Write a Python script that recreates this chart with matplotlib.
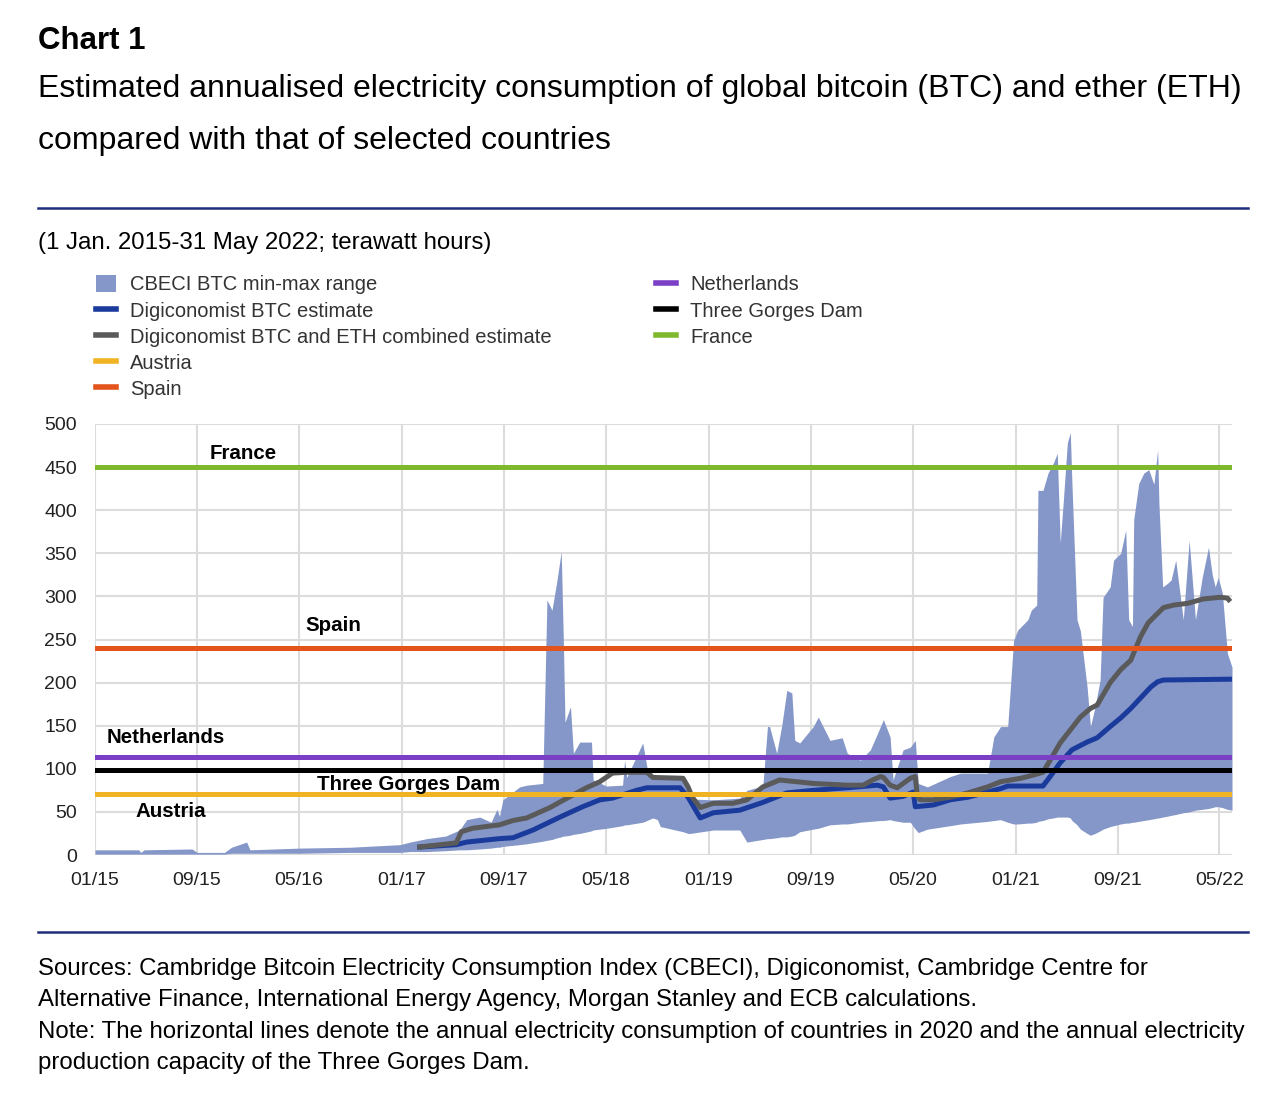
import pandas as pd
import matplotlib
matplotlib.use("Agg")
import matplotlib.pyplot as plt
import matplotlib.dates as mdates
from matplotlib.patches import Patch
from matplotlib.lines import Line2D

plt.rcParams['font.family'] = ['Liberation Sans', 'DejaVu Sans']

# CBECI BTC min-max range (TWh)
cbeci_dates = ['2015-01-01', '2015-04-15', '2015-04-20', '2015-04-28', '2015-08-20', '2015-09-01',
               '2015-11-05', '2015-11-22', '2015-12-28', '2016-01-05', '2016-05-02', '2016-08-30',
               '2016-12-27', '2017-01-20', '2017-03-01', '2017-04-15', '2017-05-18', '2017-06-04',
               '2017-07-05', '2017-08-01', '2017-08-15', '2017-08-21', '2017-08-29', '2017-10-08',
               '2017-10-25', '2017-12-02', '2017-12-12', '2017-12-24', '2018-01-05', '2018-01-15',
               '2018-01-20', '2018-01-24', '2018-02-06', '2018-02-13', '2018-02-28', '2018-03-28',
               '2018-04-01', '2018-05-03', '2018-06-10', '2018-06-15', '2018-06-20', '2018-07-28',
               '2018-08-07', '2018-08-21', '2018-09-01', '2018-09-08', '2018-11-01', '2018-11-13',
               '2018-11-18', '2019-01-12', '2019-03-16', '2019-04-02', '2019-05-10', '2019-05-21',
               '2019-05-26', '2019-06-12', '2019-06-24', '2019-07-06', '2019-07-18', '2019-07-25',
               '2019-08-06', '2019-09-07', '2019-09-19', '2019-10-17', '2019-11-15', '2019-11-27',
               '2019-12-28', '2020-01-21', '2020-02-14', '2020-02-21', '2020-03-08', '2020-03-15',
               '2020-04-08', '2020-04-25', '2020-05-07', '2020-05-14', '2020-06-05', '2020-07-29',
               '2020-08-23', '2020-10-26', '2020-11-10', '2020-11-26', '2020-12-13', '2020-12-27',
               '2021-01-06', '2021-01-30', '2021-02-07', '2021-02-20', '2021-02-23', '2021-03-07',
               '2021-03-19', '2021-04-01', '2021-04-10', '2021-04-17', '2021-04-24', '2021-05-04',
               '2021-05-11', '2021-05-15', '2021-05-27', '2021-06-04', '2021-06-20', '2021-06-28',
               '2021-07-09', '2021-07-21', '2021-07-28', '2021-08-14', '2021-08-22', '2021-09-08',
               '2021-09-20', '2021-09-27', '2021-10-06', '2021-10-09', '2021-10-21', '2021-11-02',
               '2021-11-14', '2021-11-26', '2021-12-05', '2021-12-08', '2021-12-17', '2021-12-28',
               '2022-01-06', '2022-01-17', '2022-02-04', '2022-02-18', '2022-03-05', '2022-03-21',
               '2022-04-05', '2022-04-14', '2022-04-21', '2022-04-28', '2022-05-08', '2022-05-20',
               '2022-05-31']
cbeci_max = [6, 6, 3, 6, 7, 3,
             3, 9, 15, 6, 8, 9,
             12, 15, 19, 22, 29, 41,
             44, 38, 53, 45, 64, 79,
             81, 83, 296, 284, 319, 352,
             250, 154, 172, 118, 131, 131,
             87, 80, 81, 110, 90, 130,
             102, 93, 92, 92, 92, 72,
             65, 64, 66, 75, 80, 149,
             149, 118, 150, 191, 188, 133,
             130, 149, 160, 133, 136, 118,
             110, 122, 149, 157, 137, 87,
             122, 125, 133, 83, 79, 91,
             95, 95, 137, 149, 149, 249,
             261, 273, 284, 290, 423, 423,
             443, 455, 466, 362, 408, 478,
             490, 430, 273, 260, 195, 149,
             172, 203, 299, 311, 342, 350,
             377, 273, 265, 389, 431, 443,
             447, 430, 470, 408, 311, 315,
             319, 342, 273, 365, 273, 322,
             357, 325, 311, 322, 304, 234,
             218]
cbeci_min = [1, 1, 1, 1, 1, 1,
             1, 2, 2, 2, 2, 3,
             3, 4, 4, 5, 6, 6,
             7, 8, 9, 9, 10, 12,
             13, 16, 17, 18, 20, 21,
             22, 22, 23, 24, 25, 28,
             29, 31, 34, 35, 35, 38,
             40, 43, 41, 33, 27, 25,
             25, 29, 29, 15, 18, 19,
             19, 20, 21, 21, 22, 23,
             27, 30, 31, 35, 36, 36,
             38, 39, 40, 40, 41, 40,
             38, 38, 30, 26, 30, 34,
             36, 39, 40, 41, 38, 36,
             36, 37, 37, 38, 39, 40,
             42, 43, 44, 44, 44, 44,
             43, 40, 35, 30, 25, 23,
             25, 28, 30, 33, 34, 36,
             37, 37, 38, 38, 39, 40,
             41, 42, 43, 43, 44, 45,
             46, 47, 49, 50, 52, 53,
             54, 55, 56, 56, 55, 53,
             52]

# Digiconomist BTC estimate
btc_dates = ['2017-02-06', '2017-05-10', '2017-06-04', '2017-08-21', '2017-09-22', '2017-11-09',
             '2018-01-12', '2018-03-07', '2018-04-17', '2018-05-17', '2018-07-13', '2018-08-07',
             '2018-10-25', '2018-11-13', '2018-12-12', '2019-01-12', '2019-03-16', '2019-05-10',
             '2019-07-06', '2019-09-07', '2019-11-27', '2020-02-07', '2020-02-21', '2020-03-08',
             '2020-04-08', '2020-05-02', '2020-05-07', '2020-06-19', '2020-07-29', '2020-09-09',
             '2020-10-26', '2020-11-26', '2020-12-13', '2021-03-07', '2021-03-24', '2021-04-17',
             '2021-05-15', '2021-06-20', '2021-07-14', '2021-08-14', '2021-09-08', '2021-10-02',
             '2021-10-25', '2021-11-19', '2021-12-05', '2021-12-19', '2022-05-31']
btc_vals = [9, 12, 15, 19, 20, 29,
            44, 56, 64, 66, 75, 78,
            78, 67, 43, 49, 52, 61,
            72, 75, 78, 81, 79, 66,
            68, 73, 56, 58, 64, 67,
            73, 77, 80, 80, 91, 107,
            122, 131, 136, 149, 159, 170,
            182, 195, 201, 203, 204]

# Digiconomist BTC and ETH combined estimate
comb_dates = ['2017-02-06', '2017-05-10', '2017-05-22', '2017-06-18', '2017-08-21', '2017-09-22',
              '2017-10-25', '2017-12-19', '2018-01-29', '2018-03-16', '2018-04-17', '2018-05-17',
              '2018-06-20', '2018-08-07', '2018-08-21', '2018-11-01', '2018-11-13', '2018-11-23',
              '2018-12-12', '2019-01-12', '2019-02-28', '2019-04-02', '2019-05-10', '2019-06-19',
              '2019-07-30', '2019-09-07', '2019-11-27', '2020-01-04', '2020-01-26', '2020-02-14',
              '2020-02-21', '2020-03-08', '2020-03-25', '2020-04-25', '2020-05-07', '2020-05-11',
              '2020-05-18', '2020-06-19', '2020-07-29', '2020-09-09', '2020-10-26', '2020-11-26',
              '2021-01-13', '2021-02-14', '2021-03-07', '2021-03-24', '2021-04-17', '2021-05-11',
              '2021-06-04', '2021-06-28', '2021-07-14', '2021-08-14', '2021-09-08', '2021-10-02',
              '2021-10-25', '2021-11-12', '2021-11-26', '2021-12-19', '2022-01-13', '2022-02-15',
              '2022-03-23', '2022-05-03', '2022-05-20', '2022-05-27']
comb_vals = [9, 14, 27, 31, 35, 40,
             43, 55, 66, 78, 85, 95,
             96, 96, 90, 89, 79, 67,
             55, 60, 60, 64, 79, 87,
             85, 83, 81, 81, 87, 91,
             90, 81, 78, 89, 91, 72,
             64, 64, 67, 72, 79, 85,
             89, 93, 96, 110, 130, 145,
             160, 170, 174, 200, 215, 226,
             253, 269, 276, 287, 290, 292,
             297, 299, 298, 294]

# annual electricity consumption of countries (2020) and Three Gorges Dam capacity
ref_names = ['Austria', 'Spain', 'Netherlands', 'Three Gorges Dam', 'France']
ref_vals = [71, 240, 114, 99, 450]
ref_colors = ['#f0b323', '#e2541c', '#7b3fc6', '#000000', '#80b82d']
ref_label_dates = ['2015-04-07', '2016-05-16', '2015-01-29', '2016-06-12', '2015-10-01']
ref_label_y = [50, 266, 136, 82, 466]

x_ticks = pd.date_range('2015-01-01', '2022-05-01', freq='8MS')

fill_col = '#8497c8'
blue_col = '#1a3a9c'
gray_col = '#5a5a5a'

fig = plt.figure(figsize=(12.82, 11.14), dpi=100)
H = 1114.0
W = 1282.0

def fy(py):
    return 1 - py / H

fig.text(38 / W, fy(41), 'Chart 1', fontsize=22.5, fontweight='bold', va='center', ha='left')
fig.text(38 / W, fy(89), 'Estimated annualised electricity consumption of global bitcoin (BTC) and ether (ETH)',
         fontsize=23, va='center', ha='left')
fig.text(38 / W, fy(141), 'compared with that of selected countries', fontsize=23, va='center', ha='left')
fig.add_artist(Line2D([38 / W, 1248 / W], [fy(208), fy(208)], color='#1f2d7a', lw=1.8))
fig.text(38 / W, fy(243), '(1 Jan. 2015-31 May 2022; terawatt hours)', fontsize=17.3, va='center', ha='left')

ax = fig.add_axes([95 / W, fy(855), (1232 - 95) / W, (855 - 424) / H])

cd = pd.to_datetime(cbeci_dates)
ax.fill_between(cd, cbeci_min, cbeci_max, color=fill_col, lw=0, zorder=2)
ax.plot(pd.to_datetime(btc_dates), btc_vals, color=blue_col, lw=3.6, zorder=3, solid_capstyle='butt')
ax.plot(pd.to_datetime(comb_dates), comb_vals, color=gray_col, lw=3.6, zorder=4, solid_capstyle='butt')
for v, c in zip(ref_vals, ref_colors):
    ax.axhline(v, color=c, lw=3.6, zorder=5)
for name, d, y in zip(ref_names, ref_label_dates, ref_label_y):
    ax.text(pd.Timestamp(d), y, name, fontsize=14.8, fontweight='bold', va='center', ha='left', zorder=6)

ax.set_xlim(pd.Timestamp('2015-01-01'), pd.Timestamp('2022-05-31'))
ax.set_ylim(0, 500)
ax.set_yticks(range(0, 501, 50))
ax.set_xticks(x_ticks)
ax.xaxis.set_major_formatter(mdates.DateFormatter('%m/%y'))
ax.grid(True, color='#dcdcdc', lw=1.5, zorder=0)
ax.set_axisbelow(True)
for s in ax.spines.values():
    s.set_visible(False)
ax.axhline(0, color='#dcdcdc', lw=1.5, zorder=1)
ax.tick_params(length=0, labelsize=14, colors='#222222')
ax.tick_params(axis='x', pad=12)
ax.tick_params(axis='y', pad=13)

# legend, two columns
h1 = [Patch(facecolor=fill_col, edgecolor='none'),
      Line2D([], [], color=blue_col, lw=4),
      Line2D([], [], color=gray_col, lw=4),
      Line2D([], [], color=ref_colors[0], lw=4),
      Line2D([], [], color=ref_colors[1], lw=4)]
l1 = ['CBECI BTC min-max range', 'Digiconomist BTC estimate',
      'Digiconomist BTC and ETH combined estimate', 'Austria', 'Spain']
h2 = [Line2D([], [], color=ref_colors[2], lw=4),
      Line2D([], [], color=ref_colors[3], lw=4),
      Line2D([], [], color=ref_colors[4], lw=4)]
l2 = ['Netherlands', 'Three Gorges Dam', 'France']
leg_kw = dict(frameon=False, fontsize=14.5, handlelength=1.0, handleheight=0.9, handletextpad=0.7,
              labelspacing=0.34, borderpad=0, labelcolor='#333333')
fig.legend(h1, l1, loc='upper left', bbox_to_anchor=(86 / W, fy(265)), **leg_kw)
fig.legend(h2, l2, loc='upper left', bbox_to_anchor=(646 / W, fy(265)), **leg_kw)

fig.add_artist(Line2D([38 / W, 1248 / W], [fy(932), fy(932)], color='#1f2d7a', lw=1.8))
foot = ['Sources: Cambridge Bitcoin Electricity Consumption Index (CBECI), Digiconomist, Cambridge Centre for',
        'Alternative Finance, International Energy Agency, Morgan Stanley and ECB calculations.',
        'Note: The horizontal lines denote the annual electricity consumption of countries in 2020 and the annual electricity',
        'production capacity of the Three Gorges Dam.']
for i, t in enumerate(foot):
    fig.text(38 / W, fy(969 + i * 31.3), t, fontsize=17.3, va='center', ha='left')

fig.savefig('out.png', dpi=100)
